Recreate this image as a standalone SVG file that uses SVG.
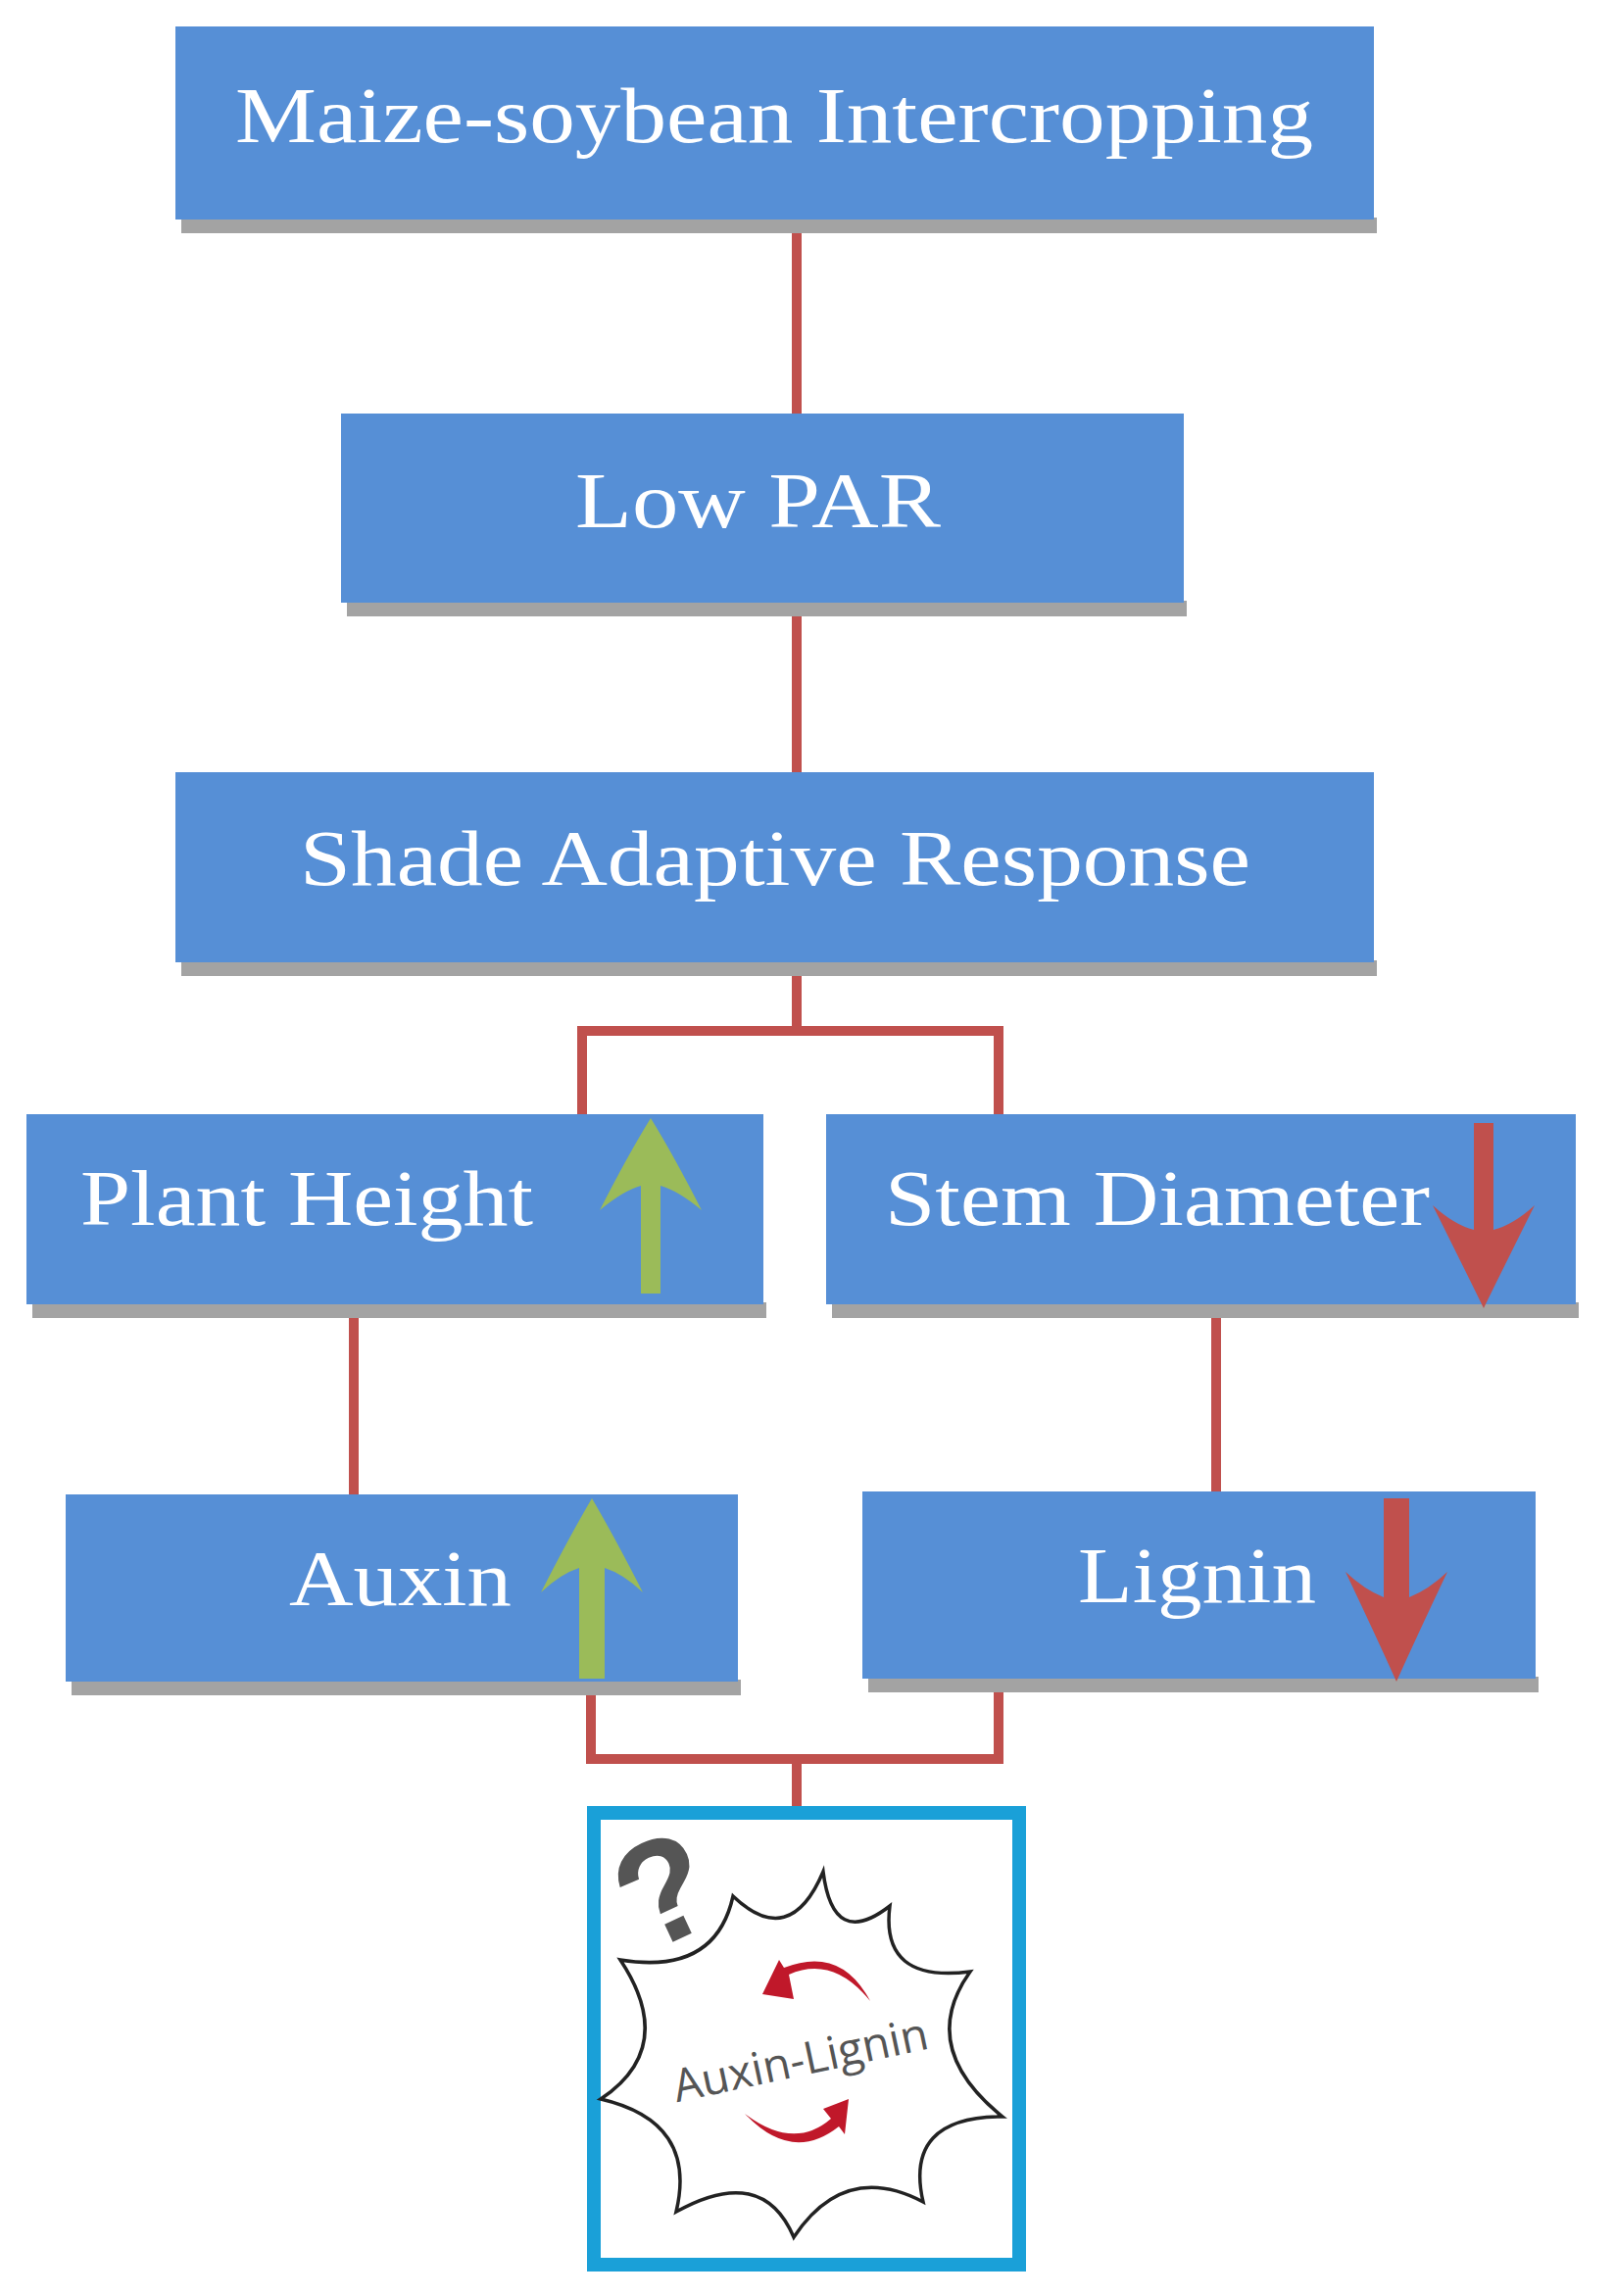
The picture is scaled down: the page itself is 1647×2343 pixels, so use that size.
<svg xmlns="http://www.w3.org/2000/svg" width="1647" height="2343" viewBox="0 0 1647 2343">
<style>
.box{fill:#568fd6}
.sh{fill:#a3a3a3}
.t{font-family:"Liberation Serif",serif;font-size:80px;fill:#fff}
.c{stroke:#c0504d;stroke-width:10;fill:none}
</style>
<rect width="1647" height="2343" fill="#fff"/>
<g id="connectors">
<path class="c" d="M813 224V422M813 615V788M813 982V1052M594 1137V1052H1019V1137M361 1331V1525M1241 1331V1525M603 1716V1795H1019V1713M813 1795V1843"/>
</g>
<g id="n1"><rect class="sh" x="185" y="222" width="1220" height="16"/><rect class="box" x="179" y="27" width="1223" height="197"/><text class="t" x="240" y="145" textLength="1100" lengthAdjust="spacingAndGlyphs">Maize-soybean Intercropping</text></g>
<g id="n2"><rect class="sh" x="354" y="613" width="857" height="16"/><rect class="box" x="348" y="422" width="860" height="193"/><text class="t" x="587" y="538" textLength="373" lengthAdjust="spacingAndGlyphs">Low PAR</text></g>
<g id="n3"><rect class="sh" x="185" y="980" width="1220" height="16"/><rect class="box" x="179" y="788" width="1223" height="194"/><text class="t" x="306" y="903" textLength="970" lengthAdjust="spacingAndGlyphs">Shade Adaptive Response</text></g>
<g id="n4"><rect class="sh" x="33" y="1329" width="749" height="16"/><rect class="box" x="27" y="1137" width="752" height="194"/><text class="t" x="82" y="1250" textLength="462" lengthAdjust="spacingAndGlyphs">Plant Height</text>
<path d="M654 1320V1210Q636 1215 612 1235Q640 1180 664 1141Q688 1180 716 1235Q692 1215 674 1210V1320Z" fill="#9bbb59"/></g>
<g id="n5"><rect class="sh" x="849" y="1329" width="762" height="16"/><rect class="box" x="843" y="1137" width="765" height="194"/><text class="t" x="903" y="1250" textLength="556" lengthAdjust="spacingAndGlyphs">Stem Diameter</text>
<path d="M1504 1146V1255Q1484 1250 1462 1230Q1492 1290 1514 1335Q1536 1290 1566 1230Q1544 1250 1524 1255V1146Z" fill="#c0504d"/></g>
<g id="n6"><rect class="sh" x="73" y="1714" width="683" height="16"/><rect class="box" x="67" y="1525" width="686" height="191"/><text class="t" x="295" y="1638" textLength="227" lengthAdjust="spacingAndGlyphs">Auxin</text>
<path d="M591 1713V1600Q572 1606 552 1625Q580 1570 604 1529Q628 1570 656 1625Q636 1606 617 1600V1713Z" fill="#9bbb59"/></g>
<g id="n7"><rect class="sh" x="886" y="1711" width="684" height="16"/><rect class="box" x="880" y="1522" width="687" height="191"/><text class="t" x="1100" y="1635" textLength="243" lengthAdjust="spacingAndGlyphs">Lignin</text>
<path d="M1412 1529V1630Q1392 1622 1373 1604Q1402 1665 1425 1716Q1448 1665 1477 1604Q1458 1622 1438 1630V1529Z" fill="#c0504d"/></g>
<g id="n8">
<rect x="606" y="1850" width="434" height="461" fill="#fff" stroke="#1aa0d8" stroke-width="14"/>
<path d="M840 1910Q850 1990 908 1945Q898 2024 990 2012Q935 2089 1023 2160Q922 2160 942 2247Q862 2205 810 2283Q778 2208 690 2257Q712 2165 613 2142Q692 2089 633 2000Q730 2016 748 1935Q806 1990 840 1910Z" fill="#fff" stroke="#222" stroke-width="3.5"/>
<text x="680" y="1980" font-family="Liberation Sans,sans-serif" font-weight="bold" font-size="150" fill="#555" text-anchor="middle" transform="rotate(-25 680 1935)">?</text>
<path d="M888 2042Q850 1995 805 2015L810 2040L778 2035L795 2000L800 2008Q858 1985 888 2042Z" fill="#c0182a"/>
<path d="M760 2157Q810 2195 848 2162L840 2152L866 2142L862 2178L856 2170Q808 2208 760 2157Z" fill="#c0182a"/>
<text x="817" y="2118" font-family="Open Sans,sans-serif" font-size="46" fill="#555" text-anchor="middle" transform="rotate(-12 817 2103)">Auxin-Lignin</text>
</g>
</svg>
